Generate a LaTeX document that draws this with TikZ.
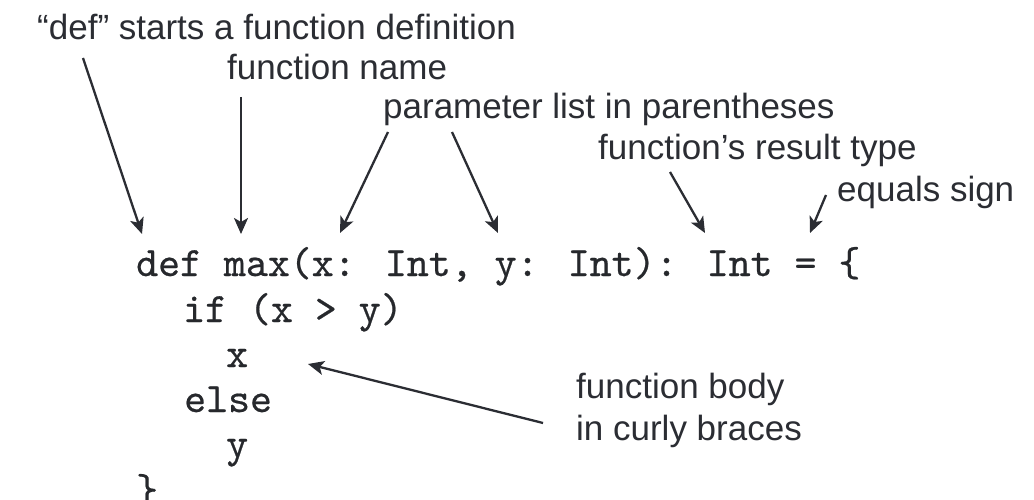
\documentclass[tikz,border=0pt]{standalone}
\usepackage{fontspec}
\setmainfont{Liberation Sans}
\newfontfamily\codefont{lmmono10-regular}[Extension=.otf,FakeBold=0.5]
\usetikzlibrary{arrows.meta}
\definecolor{ink}{HTML}{2B2D33}
\definecolor{codeink}{HTML}{26282C}
\begin{document}
\begin{tikzpicture}[x=1pt,y=-1pt,
  lbl/.style={anchor=base west,inner sep=0pt,text=ink,font=\fontsize{35}{42}\selectfont},
  code/.style={anchor=base west,inner sep=0pt,text=codeink,font=\codefont\fontsize{41.8}{46}\selectfont},
  pointer/.style={draw=ink,line width=2.3pt,-{Stealth[length=16pt,width=14pt,inset=4pt]}}]
\useasboundingbox (0,0) rectangle (1034,500);
\fill[white] (0,0) rectangle (1034,500);
% labels
\node[lbl] (tdef) at (37,40) {“def” starts a function definition};
\node[lbl] (tname) at (227,80) {function name};
\node[lbl] (tparam) at (383,119) {parameter list in parentheses};
\node[lbl] (tres) at (598,160) {function’s result type};
\node[lbl] (teq) at (837,201) {equals sign};
\node[lbl,align=left] (tbody) at (576,440) {function body\\in curly braces};
% code
\node[code] (c1) at (136,276) {def max(x: Int, y: Int): Int = \{};
\node[code] (c2) at (183,322) {if (x > y)};
\node[code] (c3) at (226,367) {x};
\node[code] (c4) at (184,412) {else};
\node[code] (c5) at (226,457) {y};
\node[code] (c6) at (136,503) {\}};
% arrow ends
\coordinate (s1) at (83,58);   \coordinate (e1) at (142,234);
\coordinate (s2) at (241,97);  \coordinate (e2) at (241,234);
\coordinate (s3) at (388,132); \coordinate (e3) at (340,233);
\coordinate (s4) at (452,132); \coordinate (e4) at (498,233);
\coordinate (s5) at (670,172); \coordinate (e5) at (705,233);
\coordinate (s6) at (826,195); \coordinate (e6) at (810,233);
\coordinate (s7) at (543,423); \coordinate (e7) at (308,364);
\draw[pointer] (s1) -- (e1);
\draw[pointer] (s2) -- (e2);
\draw[pointer] (s3) -- (e3);
\draw[pointer] (s4) -- (e4);
\draw[pointer] (s5) -- (e5);
\draw[pointer] (s6) -- (e6);
\draw[pointer] (s7) -- (e7);
\end{tikzpicture}
\end{document}
